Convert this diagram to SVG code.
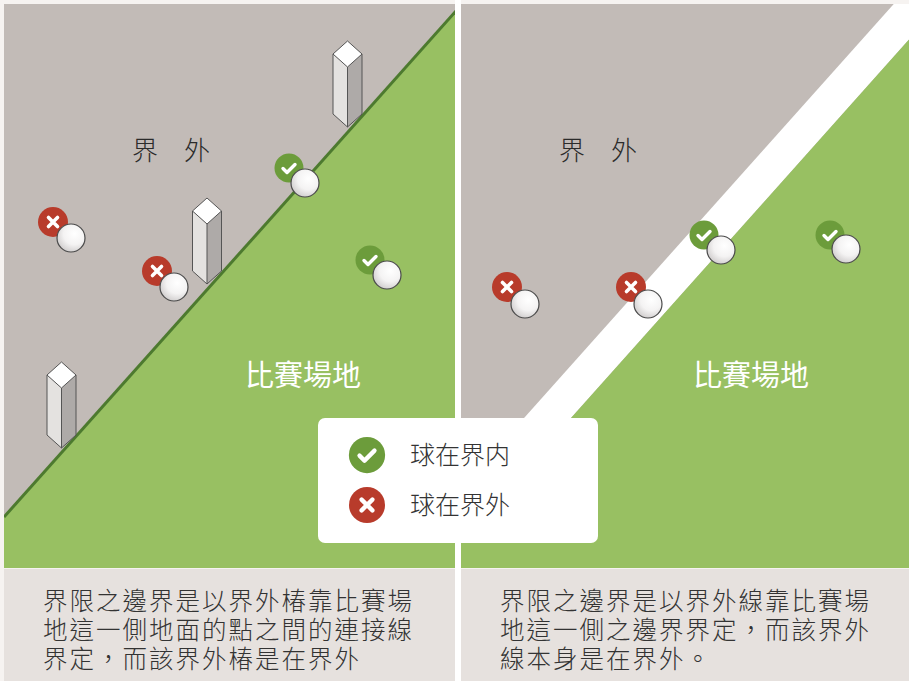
<svg xmlns="http://www.w3.org/2000/svg" xmlns:xlink="http://www.w3.org/1999/xlink" width="909" height="681" viewBox="0 0 909 681">
  <style>
    .gray { fill: #c2bbb7; }
    .field { fill: #98c062; }
    .caption-bg { fill: #e6e1de; }
    .zh { font-family: "Noto Sans CJK TC", "Noto Sans CJK SC", sans-serif; }
    .out-label { font-size: 26px; fill: #2b2b2b; font-weight: 300; }
    .field-label { font-size: 29px; fill: #ffffff; font-weight: 400; }
    .legend-text { font-size: 25px; fill: #333333; font-weight: 300; }
    .caption { font-size: 24.5px; letter-spacing: 2px; fill: #333333; font-weight: 300; }
    .ball { fill: url(#ballShade); stroke: #4a4a4a; stroke-width: 1.2; }
    .post-top { fill: #ffffff; }
    .post-left { fill: #e4e2e0; }
    .post-right { fill: #aeaaa8; }
    .post-edge { fill: none; stroke: #555555; stroke-width: 1; stroke-linejoin: round; }
    .ok { fill: #6c9c3b; }
    .bad { fill: #b83b2b; }
    .glyph { fill: none; stroke: #ffffff; stroke-linecap: round; stroke-linejoin: round; }
  </style>
  <defs>
    <radialGradient id="ballShade" cx="0.62" cy="0.35" r="0.7">
      <stop offset="0" stop-color="#ffffff"/>
      <stop offset="0.55" stop-color="#f4f3f3"/>
      <stop offset="1" stop-color="#cfcccc"/>
    </radialGradient>
    <clipPath id="leftClip"><rect x="4" y="4" width="451" height="564"/></clipPath>
    <clipPath id="rightClip"><rect x="461" y="4" width="448" height="564"/></clipPath>
    <!-- boundary post, origin at the top corner of the cap -->
    <g id="post">
      <polygon class="post-left" points="-14.5,13 0,26 0,86 -14.5,73"/>
      <polygon class="post-right" points="0,26 14.5,13 14.5,73 0,86"/>
      <polygon class="post-top" points="0,0 14.5,13 0,26 -14.5,13"/>
      <path class="post-edge" d="M0,0 L14.5,13 L14.5,73 L0,86 L-14.5,73 L-14.5,13 Z M-14.5,13 L0,26 L14.5,13 M0,26 L0,86"/>
    </g>
    <g id="okMark">
      <circle class="ok" r="14.5"/>
      <path class="glyph" stroke-width="3.4" d="M-6,0.5 L-2,4.5 L6,-3.5"/>
    </g>
    <g id="badMark">
      <circle class="bad" r="15"/>
      <path class="glyph" stroke-width="3.6" d="M-4.5,-4.5 L4.5,4.5 M4.5,-4.5 L-4.5,4.5"/>
    </g>
    <circle id="ball" class="ball" r="14"/>
  </defs>

  <rect width="909" height="681" fill="#f6f3f1"/>
  <rect x="455" y="0" width="6" height="681" fill="#ffffff"/>

  <!-- left panel: boundary defined by the posts -->
  <g id="panel-posts" clip-path="url(#leftClip)">
    <rect class="gray" x="4" y="4" width="451" height="564"/>
    <polygon class="field" points="4,517 455,12 455,568 4,568"/>
    <line x1="4" y1="517" x2="456" y2="11" stroke="#4d7a2f" stroke-width="3"/>
  </g>

  <!-- right panel: boundary defined by the line -->
  <g id="panel-line" clip-path="url(#rightClip)">
    <rect class="gray" x="461" y="4" width="448" height="564"/>
    <polygon fill="#ffffff" points="893.75,4 909,4 909,39.6 437,568 390,568"/>
    <polygon class="field" points="909,39.6 909,568 437,568"/>
  </g>

  <!-- posts -->
  <g id="post-upper"><use xlink:href="#post" transform="translate(347.5,41)"/></g>
  <g id="post-middle"><use xlink:href="#post" transform="translate(207,198)"/></g>
  <g id="post-lower"><use xlink:href="#post" transform="translate(61.5,362)"/></g>

  <!-- balls, left panel -->
  <g id="ball-l1"><use xlink:href="#badMark" x="53" y="222"/><use xlink:href="#ball" x="71" y="238"/></g>
  <g id="ball-l2"><use xlink:href="#badMark" x="157" y="271"/><use xlink:href="#ball" x="174" y="287"/></g>
  <g id="ball-l3"><use xlink:href="#okMark" x="289" y="168"/><use xlink:href="#ball" x="305" y="183"/></g>
  <g id="ball-l4"><use xlink:href="#okMark" x="370" y="260"/><use xlink:href="#ball" x="387" y="275"/></g>

  <!-- balls, right panel -->
  <g id="ball-r1"><use xlink:href="#badMark" x="507" y="287"/><use xlink:href="#ball" x="525" y="304"/></g>
  <g id="ball-r2"><use xlink:href="#badMark" x="631" y="287"/><use xlink:href="#ball" x="648" y="304"/></g>
  <g id="ball-r3"><use xlink:href="#okMark" x="704" y="235"/><use xlink:href="#ball" x="721" y="250"/></g>
  <g id="ball-r4"><use xlink:href="#okMark" x="830" y="235"/><use xlink:href="#ball" x="846" y="249"/></g>

  <!-- area labels -->
  <g id="label-out-left"><text class="zh out-label" x="132" y="160">界　外</text></g>
  <g id="label-out-right"><text class="zh out-label" x="559" y="160">界　外</text></g>
  <g id="label-field-left"><text class="zh field-label" x="245" y="386">比賽場地</text></g>
  <g id="label-field-right"><text class="zh field-label" x="693" y="386">比賽場地</text></g>

  <!-- legend -->
  <g id="legend">
    <rect x="318" y="418" width="280" height="125" rx="7" fill="#ffffff"/>
    <g transform="translate(367,455) scale(1.25)"><use xlink:href="#okMark"/></g>
    <g transform="translate(367,505) scale(1.2)"><use xlink:href="#badMark"/></g>
    <text class="zh legend-text" x="410" y="464">球在界内</text>
    <text class="zh legend-text" x="410" y="514">球在界外</text>
  </g>

  <!-- captions -->
  <g id="caption-left" xml:lang="zh-TW" lang="zh-TW">
    <rect class="caption-bg" x="4" y="569" width="451" height="112"/>
    <text class="zh caption" x="43" y="610">界限之邊界是以界外椿靠比賽場</text>
    <text class="zh caption" x="43" y="639">地這一側地面的點之間的連接線</text>
    <text class="zh caption" x="43" y="668">界定，而該界外椿是在界外</text>
  </g>
  <g id="caption-right" xml:lang="zh-TW" lang="zh-TW">
    <rect class="caption-bg" x="461" y="569" width="448" height="112"/>
    <text class="zh caption" x="500" y="610">界限之邊界是以界外線靠比賽場</text>
    <text class="zh caption" x="500" y="639">地這一側之邊界界定，而該界外</text>
    <text class="zh caption" x="500" y="668">線本身是在界外。</text>
  </g>
</svg>
